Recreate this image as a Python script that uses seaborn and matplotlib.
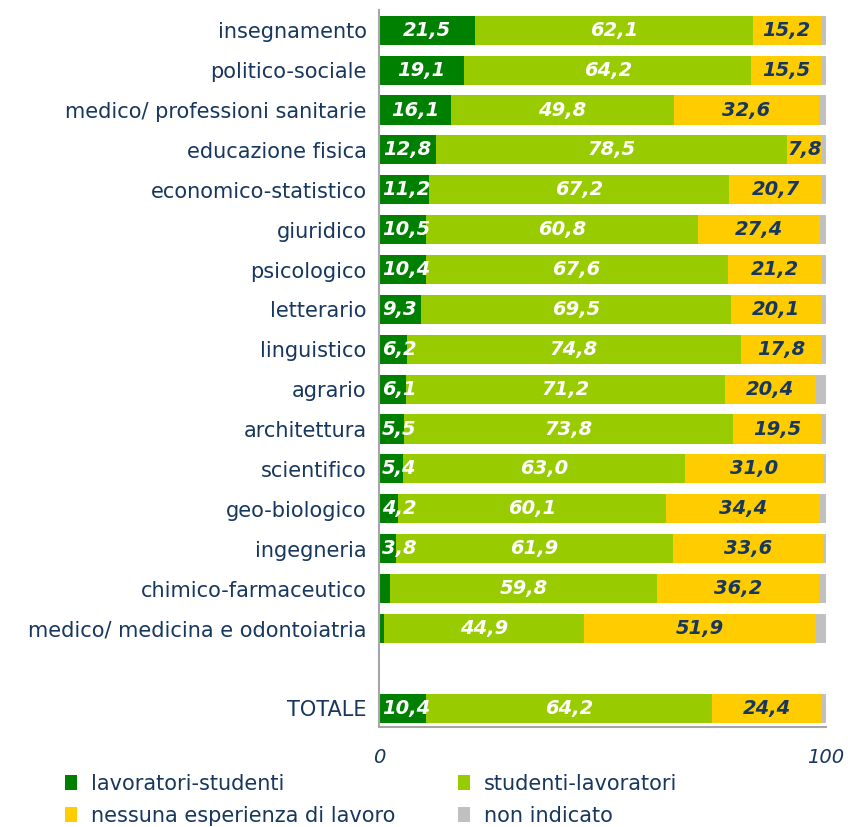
import numpy as np
import pandas as pd
import matplotlib
matplotlib.use("Agg")
import matplotlib.pyplot as plt
from matplotlib.patches import Patch
import seaborn as sns

# dati (valori percentuali)
aree = ["insegnamento", "politico-sociale", "medico/ professioni sanitarie",
        "educazione fisica", "economico-statistico", "giuridico", "psicologico",
        "letterario", "linguistico", "agrario", "architettura", "scientifico",
        "geo-biologico", "ingegneria", "chimico-farmaceutico",
        "medico/ medicina e odontoiatria", "TOTALE"]
lav_stud = [21.5, 19.1, 16.1, 12.8, 11.2, 10.5, 10.4, 9.3, 6.2, 6.1, 5.5, 5.4, 4.2, 3.8, 2.5, 1.0, 10.4]
stud_lav = [62.1, 64.2, 49.8, 78.5, 67.2, 60.8, 67.6, 69.5, 74.8, 71.2, 73.8, 63.0, 60.1, 61.9, 59.8, 44.9, 64.2]
nessuna = [15.2, 15.5, 32.6, 7.8, 20.7, 27.4, 21.2, 20.1, 17.8, 20.4, 19.5, 31.0, 34.4, 33.6, 36.2, 51.9, 24.4]
non_ind = [1.2, 1.2, 1.5, 0.9, 0.9, 1.3, 0.8, 1.1, 1.2, 2.3, 1.2, 0.6, 1.3, 0.7, 1.5, 2.2, 1.0]
# etichette mostrate solo dove c'e' spazio
mostra_lav = [True] * 14 + [False, False, True]

serie = ["lavoratori-studenti", "studenti-lavoratori", "nessuna esperienza di lavoro", "non indicato"]
colori = ["#008000", "#99CC00", "#FFCC00", "#C0C0C0"]
navy = "#17375E"

df = pd.DataFrame({"area": aree, "c1": lav_stud, "c2": stud_lav, "c3": nessuna, "c4": non_ind})
df["s1"] = df["c1"]
df["s2"] = df["s1"] + df["c2"]
df["s3"] = df["s2"] + df["c3"]
df["s4"] = df["s3"] + df["c4"]

ordine = aree[:-1] + [" "] + ["TOTALE"]

sns.set_style("white")
plt.rcParams["font.family"] = ["DejaVu Sans"]

fig = plt.figure(figsize=(8.48, 8.27), dpi=100)
ax = fig.add_axes([0.447, 0.121, 0.527, 0.867])

# barre cumulate, dalla piu' lunga alla piu' corta
for col, c in zip(["s4", "s3", "s2", "s1"], colori[::-1]):
    sns.barplot(data=df, x=col, y="area", order=ordine, color=c, saturation=1,
                width=0.73, linewidth=0, ax=ax)

def fmt(v):
    return f"{v:.1f}".replace(".", ",")

lab = dict(va="center", fontsize=14, fontweight="bold", fontstyle="italic")

# etichette dei valori
for i, r in df.iterrows():
    pos = ordine.index(r["area"])
    if mostra_lav[i]:
        if r["c1"] < 12:
            ax.text(0.7, pos, fmt(r["c1"]), ha="left", color="white", **lab)
        else:
            ax.text(r["c1"] / 2, pos, fmt(r["c1"]), ha="center", color="white", **lab)
    ax.text(r["s1"] + r["c2"] / 2, pos, fmt(r["c2"]), ha="center", color="white", **lab)
    ax.text(r["s2"] + r["c3"] / 2, pos, fmt(r["c3"]), ha="center", color=navy, **lab)

ax.set_xlim(0, 100)
ax.set_ylim(17.47, -0.51)
ax.set_xticks([0, 100])
ax.set_xticklabels(["0", "100"], fontstyle="italic", color=navy, fontsize=14)
ax.set_xlabel("")
ax.set_ylabel("")
ax.tick_params(axis="y", length=0, pad=9, labelsize=15, labelcolor=navy)
ax.tick_params(axis="x", length=0, pad=15)
for s in ["top", "right"]:
    ax.spines[s].set_visible(False)
for s in ["left", "bottom"]:
    ax.spines[s].set_color("#A6A6A6")
    ax.spines[s].set_linewidth(1.5)

handles = [Patch(facecolor=c, edgecolor="none") for c in colori]
idx = [0, 2, 1, 3]
leg = fig.legend([handles[k] for k in idx], [serie[k] for k in idx], ncol=2,
                 loc="upper left", bbox_to_anchor=(0.077, 0.064),
                 frameon=False, fontsize=15, handlelength=0.58, handleheight=0.72,
                 handletextpad=0.67, columnspacing=3.0, labelspacing=0.58,
                 borderaxespad=0, borderpad=0)
for t in leg.get_texts():
    t.set_color(navy)

fig.savefig("out.png", dpi=100)
